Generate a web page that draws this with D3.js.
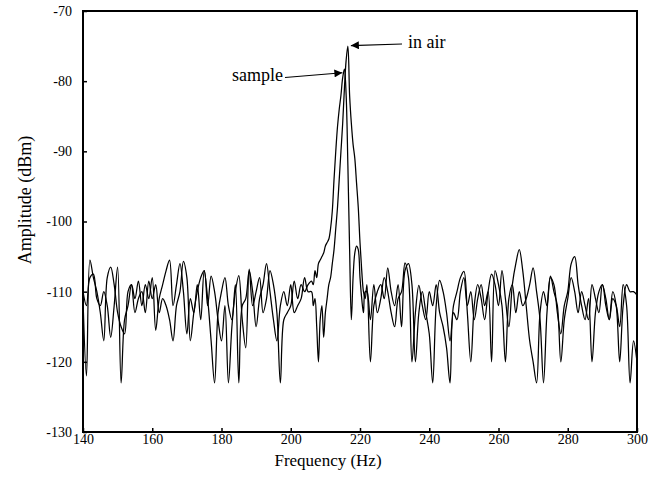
<!DOCTYPE html>
<html><head><meta charset="utf-8">
<script src="https://cdn.jsdelivr.net/npm/d3@7"></script>
<style>body{margin:0;background:#fff}svg{display:block}text{font-family:"Liberation Serif","Times New Roman",serif;fill:#000}</style>
</head><body><svg id="c" width="666" height="479"></svg>
<script>
const freq = [
140,141,142,143,144,145,146,147,148,149,
150,151,152,153,154,155,156,157,158,159,
160,161,162,163,164,165,166,167,168,169,
170,171,172,173,174,175,176,177,178,179,
180,181,182,183,184,185,186,187,188,189,
190,191,192,193,194,195,196,197,198,199,
200,201,202,203,204,205,
206,206.5,207,207.5,208,208.5,209,209.5,210,210.5,211,211.5,212,212.5,213,213.5,214,214.5,215,215.5,216,216.5,217,217.5,218,218.5,219,219.5,220,220.5,221,221.5,222,
223,224,225,226,227,228,229,230,231,232,
233,234,235,236,237,238,239,240,241,242,
243,244,245,246,247,248,249,250,251,252,
253,254,255,256,257,258,259,260,261,262,
263,264,265,266,267,268,269,270,271,272,
273,274,275,276,277,278,279,280,281,282,
283,284,285,286,287,288,289,290,291,292,
293,294,295,296,297,298,299,300];

const inAir = [
-111,-122,-105.5,-108,-110,-113,-117,-108,-106.5,-109,
-113,-115,-116,-110,-109,-111,-108.5,-112,-109,-111,
-108,-115.5,-111,-109,-107,-105.5,-112,-109,-106,-110,
-116,-111,-113,-109,-114,-107,-111,-117,-123,-113,
-110,-108,-112,-114,-109,-123,-112,-111,-107,-110,
-115,-111,-109,-106,-110,-114,-117,-112,-110,-112,
-109,-113,-112,-111,-108,-110,
-110,-112,-111,-115,-120,-114,-112,-116.5,-113,-111,-109,-108,-106,-104,-101,-98,-94,-90,-86,-81,-77,-75,-82,-86,-89,-91,-94.5,-98,-103,-107,-110,-111,-109,
-120,-112,-110,-109,-111,-106.6,-110,-112,-109,-115,
-107,-106,-109,-120,-113,-110,-113,-116,-123,-112,
-108.4,-110,-113,-117,-112,-110,-108,-107.1,-113,-120,
-112,-109,-111,-114,-110,-107.5,-109,-112,-107,-111,
-115,-109,-106,-104,-107,-112,-117,-120,-123,-113,
-110,-112,-108,-109,-113,-116,-112,-110,-106,-105,
-109,-112,-114,-111,-120,-113,-110,-109,-112,-114,
-111,-112,-115,-109,-112,-123,-117,-120];

const sample = [
-110,-112,-108,-107.5,-111,-112,-110,-112,-116.5,-112,
-106.5,-123,-114,-112,-109,-113,-111,-110,-113,-108.5,
-111,-109,-113,-111,-112,-114,-117,-112,-110,-105.7,
-108,-117,-113,-110,-108,-107,-112,-107.8,-110,-114,
-117,-112,-123,-115,-110,-107.7,-114,-118,-106.8,-112,
-110,-108,-113,-111,-107,-109,-113,-123,-114,-113,
-112,-108.5,-111,-109,-110,-109,
-108.5,-109,-107,-108,-106,-105.5,-105,-104.5,-103.5,-103,-102.5,-101,-98.5,-94,-90,-86.5,-84,-82,-79.5,-78.3,-82,-92,-104,-114,-108,-104.5,-103.5,-104,-108,-111,-113,-110,-110,
-114,-109,-113,-111,-108,-110,-113,-115,-111,-110,
-105.9,-108,-120,-113,-109.1,-112,-114,-110,-112,-109,
-113,-115,-118,-123,-113,-114,-110,-108,-112,-110,
-114,-111,-109,-112,-110,-120,-107,-109,-112,-120,
-111,-109,-113,-110,-112,-111,-109,-106.6,-110,-114,
-123,-113,-107.8,-110,-112,-120,-114,-111,-108,-110,
-113,-110,-112,-114,-109,-111,-113,-109,-111,-114,
-110,-112,-120,-112,-109,-110,-110,-110.5];

const xTicks = [140,160,180,200,220,240,260,280,300];
const yTicks = [-130,-120,-110,-100,-90,-80,-70];
const xTitle = "Frequency (Hz)";
const yTitle = "Amplitude (dBm)";
const notes = [
  {label:"in air", series:"inAir", f:216.5, a:-75},
  {label:"sample", series:"sample", f:215.2, a:-78.8}
];

const svg = d3.select("#c");
const L=83, R=637, T=11, B=432;
const x = d3.scaleLinear().domain([140,300]).range([L,R]);
const y = d3.scaleLinear().domain([-130,-70]).range([B,T]);
const fmt = d => String(d);

svg.append("defs").append("marker").attr("id","ah").attr("viewBox","0 0 10 10")
  .attr("refX",10).attr("refY",5).attr("markerWidth",11).attr("markerHeight",8)
  .attr("markerUnits","userSpaceOnUse").attr("orient","auto")
  .append("path").attr("d","M0,0L10,5L0,10Z").attr("fill","#000");

const line = d3.line().x((d,i)=>x(freq[i])).y(d=>y(d)).curve(d3.curveCatmullRom.alpha(0.5));
svg.append("path").datum(sample).attr("d",line).attr("fill","none").attr("stroke","#000").attr("stroke-width",1.25).attr("stroke-linejoin","round");
svg.append("path").datum(inAir).attr("d",line).attr("fill","none").attr("stroke","#000").attr("stroke-width",1.25).attr("stroke-linejoin","round");

const gx = svg.append("g").attr("transform",`translate(0,${B})`)
  .call(d3.axisBottom(x).tickValues(xTicks).tickSizeInner(-4).tickSizeOuter(0).tickPadding(2).tickFormat(fmt));
gx.attr("font-family",null);
gx.select(".domain").remove();
gx.selectAll("line").attr("stroke","#000").attr("stroke-width",1.5);
gx.selectAll("text").attr("font-size",14).attr("font-family","Liberation Serif");

const gy = svg.append("g").attr("transform",`translate(${L},0)`)
  .call(d3.axisLeft(y).tickValues(yTicks).tickSizeInner(-4).tickSizeOuter(0).tickPadding(11).tickFormat(fmt));
gy.attr("font-family",null);
gy.select(".domain").remove();
gy.selectAll("line").attr("stroke","#000").attr("stroke-width",1.5);
gy.selectAll("text").attr("font-size",14).attr("font-family","Liberation Serif");

svg.append("rect").attr("x",L).attr("y",T).attr("width",R-L).attr("height",B-T)
  .attr("fill","none").attr("stroke","#000").attr("stroke-width",2);

svg.append("text").attr("x",328).attr("y",466).attr("text-anchor","middle").attr("font-size",17).text(xTitle);
svg.append("text").attr("transform","translate(31,200) rotate(-90)").attr("text-anchor","middle").attr("font-size",18).text(yTitle);

// annotations
const airNote = svg.append("g");
airNote.append("line").attr("x1",402).attr("y1",44).attr("x2",x(notes[0].f)+3).attr("y2",y(notes[0].a)-0.5)
  .attr("stroke","#000").attr("stroke-width",1.2).attr("marker-end","url(#ah)");
airNote.append("text").attr("x",408).attr("y",48).attr("font-size",18).text(notes[0].label);
const smpNote = svg.append("g");
smpNote.append("line").attr("x1",285).attr("y1",77.5).attr("x2",x(notes[1].f)-1).attr("y2",y(notes[1].a))
  .attr("stroke","#000").attr("stroke-width",1.2).attr("marker-end","url(#ah)");
smpNote.append("text").attr("x",283).attr("y",81).attr("text-anchor","end").attr("font-size",18).text(notes[1].label);
</script></body></html>
